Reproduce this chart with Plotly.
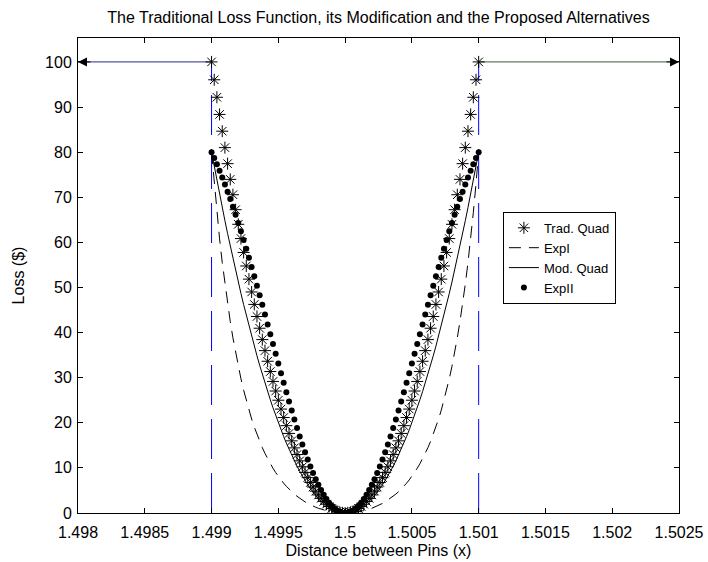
import plotly.graph_objects as go

# ---- data ----
pin_distance = [
    1.49900, 1.49902, 1.49904, 1.49906, 1.49908, 1.49910, 1.49912, 1.49914, 1.49916, 1.49918,
    1.49920, 1.49922, 1.49924, 1.49926, 1.49928, 1.49930, 1.49932, 1.49934, 1.49936, 1.49938,
    1.49940, 1.49942, 1.49944, 1.49946, 1.49948, 1.49950, 1.49952, 1.49954, 1.49956, 1.49958,
    1.49960, 1.49962, 1.49964, 1.49966, 1.49968, 1.49970, 1.49972, 1.49974, 1.49976, 1.49978,
    1.49980, 1.49982, 1.49984, 1.49986, 1.49988, 1.49990, 1.49992, 1.49994, 1.49996, 1.49998,
    1.50000,
    1.50002, 1.50004, 1.50006, 1.50008, 1.50010, 1.50012, 1.50014, 1.50016, 1.50018, 1.50020,
    1.50022, 1.50024, 1.50026, 1.50028, 1.50030, 1.50032, 1.50034, 1.50036, 1.50038, 1.50040,
    1.50042, 1.50044, 1.50046, 1.50048, 1.50050, 1.50052, 1.50054, 1.50056, 1.50058, 1.50060,
    1.50062, 1.50064, 1.50066, 1.50068, 1.50070, 1.50072, 1.50074, 1.50076, 1.50078, 1.50080,
    1.50082, 1.50084, 1.50086, 1.50088, 1.50090, 1.50092, 1.50094, 1.50096, 1.50098, 1.50100,
]

trad_quad = [
    100, 96.04, 92.16, 88.36, 84.64, 81, 77.44, 73.96, 70.56, 67.24,
    64, 60.84, 57.76, 54.76, 51.84, 49, 46.24, 43.56, 40.96, 38.44,
    36, 33.64, 31.36, 29.16, 27.04, 25, 23.04, 21.16, 19.36, 17.64,
    16, 14.44, 12.96, 11.56, 10.24, 9, 7.84, 6.76, 5.76, 4.84,
    4, 3.24, 2.56, 1.96, 1.44, 1, 0.64, 0.36, 0.16, 0.04,
    0,
    0.04, 0.16, 0.36, 0.64, 1, 1.44, 1.96, 2.56, 3.24, 4,
    4.84, 5.76, 6.76, 7.84, 9, 10.24, 11.56, 12.96, 14.44, 16,
    17.64, 19.36, 21.16, 23.04, 25, 27.04, 29.16, 31.36, 33.64, 36,
    38.44, 40.96, 43.56, 46.24, 49, 51.84, 54.76, 57.76, 60.84, 64,
    67.24, 70.56, 73.96, 77.44, 81, 84.64, 88.36, 92.16, 96.04, 100,
]

exp_one = [
    80.0, 72.96, 66.58, 60.79, 55.52, 50.75, 46.41, 42.44, 38.83, 35.52,
    32.52, 29.75, 27.23, 24.92, 22.79, 20.84, 19.05, 17.40, 15.89, 14.49,
    13.20, 12.02, 10.93, 9.92, 8.98, 8.12, 7.33, 6.60, 5.92, 5.30,
    4.72, 4.19, 3.71, 3.26, 2.85, 2.47, 2.13, 1.81, 1.53, 1.27,
    1.04, 0.84, 0.66, 0.50, 0.37, 0.25, 0.16, 0.09, 0.04, 0.01,
    0,
    0.01, 0.04, 0.09, 0.16, 0.25, 0.37, 0.50, 0.66, 0.84, 1.04,
    1.27, 1.53, 1.81, 2.13, 2.47, 2.85, 3.26, 3.71, 4.19, 4.72,
    5.30, 5.92, 6.60, 7.33, 8.12, 8.98, 9.92, 10.93, 12.02, 13.20,
    14.49, 15.89, 17.40, 19.05, 20.84, 22.79, 24.92, 27.23, 29.75, 32.52,
    35.52, 38.83, 42.44, 46.41, 50.75, 55.52, 60.79, 66.58, 72.96, 80.0,
]

mod_quad = [
    80, 76.83, 73.73, 70.69, 67.71, 64.8, 61.95, 59.17, 56.45, 53.79,
    51.2, 48.67, 46.21, 43.81, 41.47, 39.2, 36.99, 34.85, 32.77, 30.75,
    28.8, 26.91, 25.09, 23.33, 21.63, 20, 18.43, 16.93, 15.49, 14.11,
    12.8, 11.55, 10.37, 9.25, 8.19, 7.2, 6.27, 5.41, 4.61, 3.87,
    3.2, 2.59, 2.05, 1.57, 1.15, 0.8, 0.51, 0.29, 0.13, 0.03,
    0,
    0.03, 0.13, 0.29, 0.51, 0.8, 1.15, 1.57, 2.05, 2.59, 3.2,
    3.87, 4.61, 5.41, 6.27, 7.2, 8.19, 9.25, 10.37, 11.55, 12.8,
    14.11, 15.49, 16.93, 18.43, 20, 21.63, 23.33, 25.09, 26.91, 28.8,
    30.75, 32.77, 34.85, 36.99, 39.2, 41.47, 43.81, 46.21, 48.67, 51.2,
    53.79, 56.45, 59.17, 61.95, 64.8, 67.71, 70.69, 73.73, 76.83, 80,
]

exp_two = [
    80.0, 78.68, 77.31, 75.88, 74.39, 72.85, 71.24, 69.59, 67.88, 66.12,
    64.30, 62.44, 60.53, 58.58, 56.59, 54.55, 52.49, 50.39, 48.27, 46.14,
    43.98, 41.81, 39.63, 37.45, 35.28, 33.13, 30.98, 28.86, 26.77, 24.72,
    22.70, 20.74, 18.83, 16.98, 15.19, 13.49, 11.85, 10.31, 8.85, 7.49,
    6.24, 5.08, 4.04, 3.11, 2.29, 1.60, 1.03, 0.58, 0.26, 0.06,
    0,
    0.06, 0.26, 0.58, 1.03, 1.60, 2.29, 3.11, 4.04, 5.08, 6.24,
    7.49, 8.85, 10.31, 11.85, 13.49, 15.19, 16.98, 18.83, 20.74, 22.70,
    24.72, 26.77, 28.86, 30.98, 33.13, 35.28, 37.45, 39.63, 41.81, 43.98,
    46.14, 48.27, 50.39, 52.49, 54.55, 56.59, 58.58, 60.53, 62.44, 64.30,
    66.12, 67.88, 69.59, 71.24, 72.85, 74.39, 75.88, 77.31, 78.68, 80.0,
]

spec_limits = [1.499, 1.501]
max_loss = 100
x_limits = [1.498, 1.5025]

x_tick_vals = [1.498, 1.4985, 1.499, 1.4995, 1.5, 1.5005, 1.501, 1.5015, 1.502, 1.5025]
x_tick_text = ["1.498", "1.4985", "1.499", "1.4995", "1.5", "1.5005", "1.501", "1.5015", "1.502", "1.5025"]
y_tick_vals = [0, 10, 20, 30, 40, 50, 60, 70, 80, 90, 100]

FONT = "Liberation Sans, Arial, sans-serif"

fig = go.Figure()

# spec-limit vertical lines (blue, dashed)
for xl in spec_limits:
    fig.add_trace(go.Scatter(x=[xl, xl], y=[0, max_loss], mode="lines",
                             line=dict(color="#0000ff", width=1, dash="40px,14px"),
                             showlegend=False, hoverinfo="skip"))
# horizontal loss lines outside the limits
fig.add_trace(go.Scatter(x=[x_limits[0], spec_limits[0]], y=[max_loss, max_loss], mode="lines",
                         line=dict(color="#2a2a8a", width=1), showlegend=False, hoverinfo="skip"))
fig.add_trace(go.Scatter(x=[spec_limits[1], x_limits[1]], y=[max_loss, max_loss], mode="lines",
                         line=dict(color="#3c5a3c", width=1), showlegend=False, hoverinfo="skip"))

fig.add_trace(go.Scatter(x=pin_distance, y=trad_quad, mode="markers", name="Trad. Quad",
                         marker=dict(symbol="asterisk-open", size=10, color="black",
                                     line=dict(color="black", width=1))))
fig.add_trace(go.Scatter(x=pin_distance, y=exp_one, mode="lines", name="ExpI",
                         line=dict(color="black", width=1, dash="12px,8px")))
fig.add_trace(go.Scatter(x=pin_distance, y=mod_quad, mode="lines", name="Mod. Quad",
                         line=dict(color="black", width=1)))
fig.add_trace(go.Scatter(x=pin_distance, y=exp_two, mode="markers", name="ExpII",
                         marker=dict(symbol="circle", size=6, color="black")))

# arrow heads at the axis edges
fig.add_annotation(x=x_limits[0], y=max_loss, ax=14, ay=0, xref="x", yref="y",
                   showarrow=True, arrowhead=2, arrowsize=1.8, arrowwidth=1,
                   arrowcolor="black", text="")
fig.add_annotation(x=x_limits[1], y=max_loss, ax=-14, ay=0, xref="x", yref="y",
                   showarrow=True, arrowhead=2, arrowsize=1.8, arrowwidth=1,
                   arrowcolor="black", text="")

fig.update_layout(
    width=708, height=562,
    margin=dict(l=78, r=29, t=38, b=49, autoexpand=False),
    paper_bgcolor="white", plot_bgcolor="white",
    font=dict(family=FONT, size=15, color="black"),
    title=dict(text="The Traditional Loss Function, its Modification and the Proposed Alternatives",
               x=0.5, xref="paper", xanchor="center", y=1 - 17 / 562, yanchor="middle",
               font=dict(family=FONT, size=16, color="black")),
    legend=dict(x=0.707, y=0.634, xanchor="left", yanchor="top",
                bgcolor="white", bordercolor="black", borderwidth=1,
                font=dict(family=FONT, size=13, color="black"),
                tracegroupgap=0, itemwidth=30),
    showlegend=True,
)
fig.update_xaxes(range=x_limits, tickvals=x_tick_vals, ticktext=x_tick_text,
                 showgrid=False, zeroline=False, showline=True, linecolor="black", linewidth=1,
                 mirror="ticks", ticks="inside", ticklen=5, tickcolor="black",
                 ticklabelstandoff=5,
                 tickfont=dict(family=FONT, size=16, color="black"),
                 title=dict(text="Distance between Pins (x)", font=dict(family=FONT, size=16), standoff=4))
fig.update_yaxes(range=[0, 105.3], tickvals=y_tick_vals,
                 showgrid=False, zeroline=False, showline=True, linecolor="black", linewidth=1,
                 mirror="ticks", ticks="inside", ticklen=5, tickcolor="black",
                 ticklabelstandoff=2,
                 tickfont=dict(family=FONT, size=16, color="black"),
                 title=dict(text="Loss ($)", font=dict(family=FONT, size=16), standoff=16))

fig.write_html("out.html")
